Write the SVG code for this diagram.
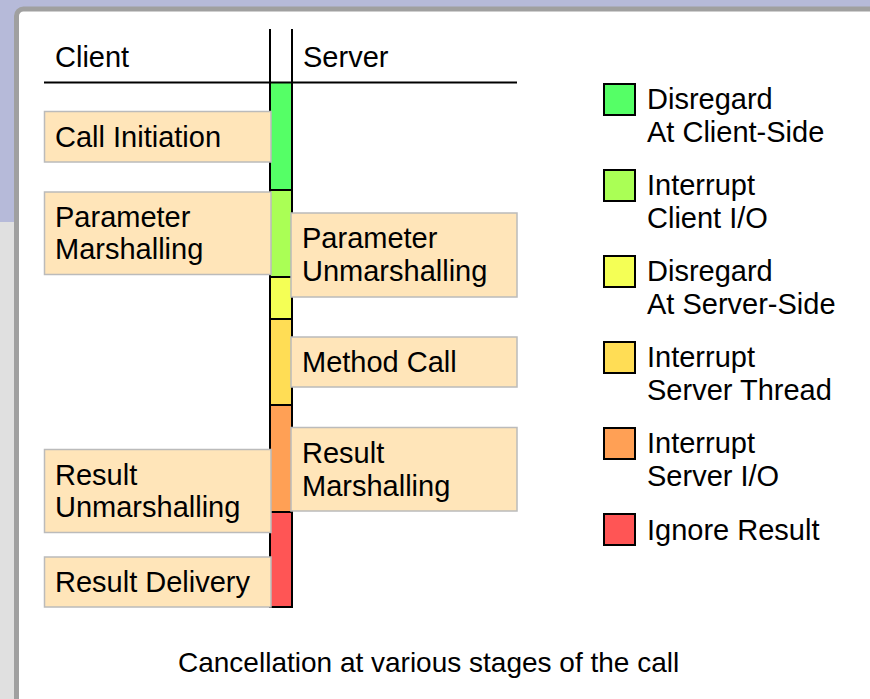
<svg xmlns="http://www.w3.org/2000/svg" width="870" height="699" viewBox="0 0 870 699">
  <style>
    text { font-family: "Liberation Sans", Arial, sans-serif; font-size: 29px; fill: #000; }
    .box { fill: #ffe5b9; stroke: #bbbbbb; stroke-width: 1.5; }
    .sw { stroke: #000; stroke-width: 2; }
    .rule { stroke: #000; stroke-width: 2; fill: none; }
  </style>

  <!-- page background and panel -->
  <rect x="0" y="0" width="870" height="699" fill="#e0e0e0"/>
  <rect x="0" y="0" width="870" height="222" fill="#b6bad9"/>
  <rect x="16.5" y="9" width="900" height="760" rx="7" fill="#ffffff" stroke="#a0a0a0" stroke-width="5"/>

  <!-- column headers -->
  <g id="headers">
    <text x="55" y="67">Client</text>
    <text x="303" y="67">Server</text>
  </g>

  <!-- timeline column, coloured by cancellation behaviour -->
  <g id="timeline">
    <rect x="271" y="83" width="20" height="107" fill="#55ff66"/>
    <rect x="271" y="190" width="20" height="87" fill="#aaff55"/>
    <rect x="271" y="277" width="20" height="42" fill="#f4ff55"/>
    <rect x="271" y="319" width="20" height="86" fill="#ffdd55"/>
    <rect x="271" y="405" width="20" height="107" fill="#ffa055"/>
    <rect x="271" y="512" width="20" height="95" fill="#ff5555"/>
  </g>

  <g id="connectors">
    <line class="rule" x1="44" y1="82.5" x2="517" y2="82.5"/>
    <line class="rule" x1="270" y1="29" x2="270" y2="608"/>
    <line class="rule" x1="292" y1="29" x2="292" y2="608"/>
    <line class="rule" x1="270" y1="190" x2="292" y2="190"/>
    <line class="rule" x1="270" y1="277" x2="292" y2="277"/>
    <line class="rule" x1="270" y1="319" x2="292" y2="319"/>
    <line class="rule" x1="270" y1="405" x2="292" y2="405"/>
    <line class="rule" x1="270" y1="512" x2="292" y2="512"/>
    <line class="rule" x1="269" y1="607" x2="293" y2="607"/>
  </g>

  <!-- client-side stages -->
  <g id="call-initiation">
    <rect class="box" x="44.5" y="111.5" width="226.5" height="50.5"/>
    <text x="55" y="147">Call Initiation</text>
  </g>
  <g id="parameter-marshalling">
    <rect class="box" x="44.5" y="192" width="226.5" height="82.5"/>
    <text x="55" y="227">Parameter</text>
    <text x="55" y="259">Marshalling</text>
  </g>
  <g id="result-unmarshalling">
    <rect class="box" x="44.5" y="449.5" width="226.5" height="83"/>
    <text x="55" y="485">Result</text>
    <text x="55" y="517">Unmarshalling</text>
  </g>
  <g id="result-delivery">
    <rect class="box" x="44.5" y="557" width="226.5" height="50"/>
    <text x="55" y="592">Result Delivery</text>
  </g>

  <!-- server-side stages -->
  <g id="parameter-unmarshalling">
    <rect class="box" x="291" y="213" width="226" height="84"/>
    <text x="302" y="248">Parameter</text>
    <text x="302" y="281">Unmarshalling</text>
  </g>
  <g id="method-call">
    <rect class="box" x="291" y="337" width="226" height="50"/>
    <text x="302" y="372">Method Call</text>
  </g>
  <g id="result-marshalling">
    <rect class="box" x="291" y="427.5" width="226" height="83.5"/>
    <text x="302" y="463">Result</text>
    <text x="302" y="496">Marshalling</text>
  </g>

  <!-- legend -->
  <g id="legend-disregard-client">
    <rect class="sw" x="604" y="84" width="31" height="31" fill="#55ff66"/>
    <text x="647" y="109">Disregard</text>
    <text x="647" y="142">At Client-Side</text>
  </g>
  <g id="legend-interrupt-client-io">
    <rect class="sw" x="604" y="170" width="31" height="31" fill="#aaff55"/>
    <text x="647" y="195">Interrupt</text>
    <text x="647" y="228">Client I/O</text>
  </g>
  <g id="legend-disregard-server">
    <rect class="sw" x="604" y="256" width="31" height="31" fill="#f4ff55"/>
    <text x="647" y="281">Disregard</text>
    <text x="647" y="314">At Server-Side</text>
  </g>
  <g id="legend-interrupt-server-thread">
    <rect class="sw" x="604" y="342" width="31" height="31" fill="#ffdd55"/>
    <text x="647" y="367">Interrupt</text>
    <text x="647" y="400">Server Thread</text>
  </g>
  <g id="legend-interrupt-server-io">
    <rect class="sw" x="604" y="428" width="31" height="31" fill="#ffa055"/>
    <text x="647" y="453">Interrupt</text>
    <text x="647" y="486">Server I/O</text>
  </g>
  <g id="legend-ignore-result">
    <rect class="sw" x="604" y="514" width="31" height="31" fill="#ff5555"/>
    <text x="647" y="540">Ignore Result</text>
  </g>

  <text x="178" y="672" style="font-size:28px">Cancellation at various stages of the call</text>
</svg>
